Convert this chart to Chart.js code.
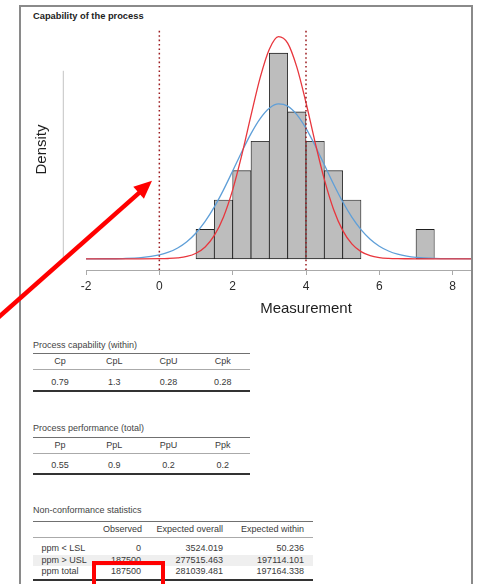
<!DOCTYPE html>
<html lang="en">
<head>
    <meta charset="UTF-8">
    <title>Capability of the process</title>
    <script src="https://cdn.jsdelivr.net/npm/chart.js"></script>
    <style>
        html, body { margin: 0; padding: 0; background: #fff; }
        body { width: 477px; height: 584px; position: relative; overflow: hidden;
               font-family: "Liberation Sans", Arial, sans-serif; color: #333; }
        .panel { position: absolute; left: 19px; top: 5px; width: 454px; height: 600px;
                 box-sizing: border-box; border: 2px solid #8a8a8a; border-bottom: none; }
        .plot-clip { position: absolute; left: 21px; top: 7px; width: 450px; height: 315px; overflow: hidden; }
        .plot-clip canvas { position: absolute; left: -21px; top: -7px; }
        .panel-title { position: absolute; left: 33px; top: 9.7px; font-size: 9.3px; line-height: 12px;
                       font-weight: bold; color: #222; white-space: nowrap; }
        .tbl-title { position: absolute; left: 33px; font-size: 9px; line-height: 12px; color: #444; white-space: nowrap; }
        .tbl { position: absolute; left: 33px; font-size: 9px; color: #3a3a3a;
               border-top: 1px solid #707070; border-bottom: 2px solid #333; }
        .tbl .row { display: flex; }
        .tbl .head { height: 15px; line-height: 15px; border-bottom: 1px solid #aaa; }
        .tbl .body { padding-top: 4.5px; height: 15px; line-height: 15px; }
        .tbl.small .cell { flex: 1; text-align: center; }
        .nc .rows { padding-top: 5.75px; padding-bottom: 1.5px; }
        .nc .rows .row { height: 11.5px; line-height: 11.5px; }
        .nc .rows .row.band { background: #efefef; }
        .nc .cell { text-align: right; box-sizing: border-box; white-space: nowrap; }
        .nc .c0 { width: 70px; text-align: left; padding-left: 8.5px; }
        .nc .c1 { width: 45px; padding-right: 7px; }
        .nc .c2 { width: 82px; padding-right: 7px; }
        .nc .c3 { width: 83px; padding-right: 9px; }
        .redbox { position: absolute; left: 91.5px; top: 561px; width: 73.5px; height: 40px;
                  box-sizing: border-box; border: 4px solid #ff0000; z-index: 10; }
        svg.arrow { position: absolute; left: 0; top: 0; z-index: 10; pointer-events: none; }
    </style>
</head>
<body>
    <div class="panel"></div>
    <div class="panel-title">Capability of the process</div>
    <div class="plot-clip"><canvas id="capChart" width="560" height="330" style="width:560px;height:330px"></canvas></div>

    <div class="tbl-title" style="top:338.5px">Process capability (within)</div>
    <div class="tbl small" id="capTable" style="top:353px;width:217px"></div>

    <div class="tbl-title" style="top:421.7px">Process performance (total)</div>
    <div class="tbl small" id="perfTable" style="top:436.5px;width:217px"></div>

    <div class="tbl-title" style="top:504px">Non-conformance statistics</div>
    <div class="tbl nc" id="ncTable" style="top:520.5px;width:280px"></div>

    <div class="redbox"></div>
    <svg class="arrow" width="477" height="584">
        <line x1="-4" y1="319.6" x2="140.5" y2="191.6" stroke="#ff0000" stroke-width="4.5"/>
        <polygon points="152,180.7 143.9,198.7 133.3,186.7" fill="#ff0000"/>
    </svg>

    <script>
        // Histogram (bin midpoints, width 0.5) and density of each bin
        const binMids = [1.25, 1.75, 2.25, 2.75, 3.25, 3.75, 4.25, 4.75, 5.25, 5.75, 6.25, 6.75, 7.25];
        const binDensity = [0.0625, 0.125, 0.1875, 0.25, 0.4375, 0.3125, 0.25, 0.1875, 0.125, 0, 0, 0, 0.0625];

        // Fitted normal curves
        const curveX = [-2, -1.5, -1, -0.5, 0, 0.25, 0.5, 0.75, 1, 1.25, 1.5, 1.75, 2, 2.25, 2.5, 2.75,
                        3, 3.25, 3.5, 3.75, 4, 4.25, 4.5, 4.75, 5, 5.25, 5.5, 5.75, 6, 6.25, 6.5, 6.75,
                        7, 7.5, 8, 9, 10];
        const withinDensity = [0, 0, 0, 0, 0.0002, 0.0007, 0.002, 0.005, 0.0118, 0.0253, 0.0497, 0.0892,
                               0.1467, 0.221, 0.305, 0.3855, 0.446, 0.4727, 0.4588, 0.4077, 0.332, 0.2473,
                               0.169, 0.1056, 0.0605, 0.0317, 0.0152, 0.0067, 0.0027, 0.001, 0.0003, 0.0001,
                               0, 0, 0, 0, 0];
        const overallDensity = [0, 0.0001, 0.0006, 0.0024, 0.0082, 0.014, 0.0231, 0.0364, 0.055, 0.0796,
                                0.1104, 0.1467, 0.1868, 0.2278, 0.2664, 0.2984, 0.3204, 0.3295, 0.3248,
                                0.3067, 0.2775, 0.2407, 0.2, 0.1592, 0.1214, 0.0888, 0.0622, 0.0417, 0.0268,
                                0.0166, 0.0098, 0.0055, 0.003, 0.0008, 0.0002, 0, 0];

        // Specification limits (LSL, USL)
        const specLimits = [0, 4];

        // Axis ranges
        const xRange = [-2, 10];
        const yRange = [-0.0238, 0.4889];
        const densityAxisRange = [0, 0.4];

        // Tables
        const capHeaders = ['Cp', 'CpL', 'CpU', 'Cpk'];
        const capValues = ['0.79', '1.3', '0.28', '0.28'];
        const perfHeaders = ['Pp', 'PpL', 'PpU', 'Ppk'];
        const perfValues = ['0.55', '0.9', '0.2', '0.2'];
        const ncHeaders = ['', 'Observed', 'Expected overall', 'Expected within'];
        const ncLabels = ['ppm < LSL', 'ppm > USL', 'ppm total'];
        const ncObserved = ['0', '187500', '187500'];
        const ncExpOverall = ['3524.019', '277515.463', '281039.481'];
        const ncExpWithin = ['50.236', '197114.101', '197164.338'];

        function makeRow(cls, cells, cellClass) {
            const row = document.createElement('div');
            row.className = 'row ' + cls;
            cells.forEach((text, i) => {
                const c = document.createElement('div');
                c.className = 'cell' + (cellClass ? ' c' + i : '');
                c.textContent = text;
                row.appendChild(c);
            });
            return row;
        }

        function buildSmallTable(id, headers, values) {
            const t = document.getElementById(id);
            t.appendChild(makeRow('head', headers));
            t.appendChild(makeRow('body', values));
        }

        buildSmallTable('capTable', capHeaders, capValues);
        buildSmallTable('perfTable', perfHeaders, perfValues);

        const nc = document.getElementById('ncTable');
        nc.appendChild(makeRow('head', ncHeaders, true));
        const rows = document.createElement('div');
        rows.className = 'rows';
        ncLabels.forEach((label, i) => {
            const r = makeRow(i === 1 ? 'band' : '', [label, ncObserved[i], ncExpOverall[i], ncExpWithin[i]], true);
            rows.appendChild(r);
        });
        nc.appendChild(rows);

        // Short y axis line (no ticks), left of the plot
        const densityAxisLine = {
            id: 'densityAxisLine',
            afterDraw(chart) {
                const y = chart.scales.y;
                const ctx = chart.ctx;
                const x = chart.chartArea.left - 22.7;
                ctx.save();
                ctx.strokeStyle = '#c4c4c4';
                ctx.lineWidth = 1;
                ctx.beginPath();
                ctx.moveTo(x, y.getPixelForValue(densityAxisRange[0]));
                ctx.lineTo(x, y.getPixelForValue(densityAxisRange[1]));
                ctx.stroke();
                ctx.restore();
            }
        };

        Chart.defaults.font.family = '"Liberation Sans", Arial, sans-serif';

        const curvePoints = vals => curveX.map((x, i) => ({ x: x, y: vals[i] }));
        const specLine = x => [{ x: x, y: yRange[0] }, { x: x, y: yRange[1] }];

        new Chart(document.getElementById('capChart'), {
            type: 'line',
            data: {
                datasets: [
                    {
                        type: 'bar',
                        label: 'Histogram',
                        data: binMids.map((x, i) => ({ x: x, y: binDensity[i] })),
                        backgroundColor: '#bdbdbd',
                        borderColor: '#1f1f1f',
                        borderWidth: 0.8,
                        borderSkipped: false,
                        barPercentage: 1,
                        categoryPercentage: 1,
                        order: 3
                    },
                    {
                        label: 'Overall',
                        data: curvePoints(overallDensity),
                        borderColor: '#5f9fd8',
                        borderWidth: 1.3,
                        pointRadius: 0,
                        cubicInterpolationMode: 'monotone',
                        fill: false,
                        order: 2
                    },
                    {
                        label: 'Within',
                        data: curvePoints(withinDensity),
                        borderColor: '#e8363d',
                        borderWidth: 1.3,
                        pointRadius: 0,
                        cubicInterpolationMode: 'monotone',
                        fill: false,
                        order: 1
                    },
                    {
                        label: 'LSL',
                        data: specLine(specLimits[0]),
                        borderColor: '#9c1b1f',
                        borderWidth: 1.5,
                        borderDash: [1.6, 2.8],
                        pointRadius: 0,
                        fill: false,
                        order: 0
                    },
                    {
                        label: 'USL',
                        data: specLine(specLimits[1]),
                        borderColor: '#9c1b1f',
                        borderWidth: 1.5,
                        borderDash: [1.6, 2.8],
                        pointRadius: 0,
                        fill: false,
                        order: 0
                    }
                ]
            },
            options: {
                responsive: false,
                animation: false,
                layout: { padding: { left: 33, top: 29, right: 34, bottom: 12 } },
                plugins: {
                    legend: { display: false },
                    tooltip: { enabled: false }
                },
                scales: {
                    x: {
                        type: 'linear',
                        offset: false,
                        min: xRange[0],
                        max: xRange[1],
                        afterFit: s => { s.height = 48; },
                        ticks: {
                            stepSize: 2,
                            padding: 4,
                            color: '#2a2a2a',
                            font: { size: 12 }
                        },
                        grid: {
                            offset: false,
                            drawOnChartArea: false,
                            drawTicks: true,
                            tickLength: 5,
                            color: '#aaaaaa'
                        },
                        border: { display: true, color: '#aaaaaa', width: 1 },
                        title: {
                            display: true,
                            text: 'Measurement',
                            color: '#1e1e1e',
                            font: { size: 15 },
                            padding: { top: 0, bottom: 0 }
                        }
                    },
                    y: {
                        type: 'linear',
                        min: yRange[0],
                        max: yRange[1],
                        afterFit: s => { s.width = 53; },
                        ticks: { display: false },
                        grid: { display: false },
                        border: { display: false },
                        title: {
                            display: true,
                            text: 'Density',
                            color: '#1e1e1e',
                            font: { size: 15 },
                            padding: { top: 0, bottom: 0 }
                        }
                    }
                }
            },
            plugins: [densityAxisLine]
        });
    </script>
</body>
</html>
